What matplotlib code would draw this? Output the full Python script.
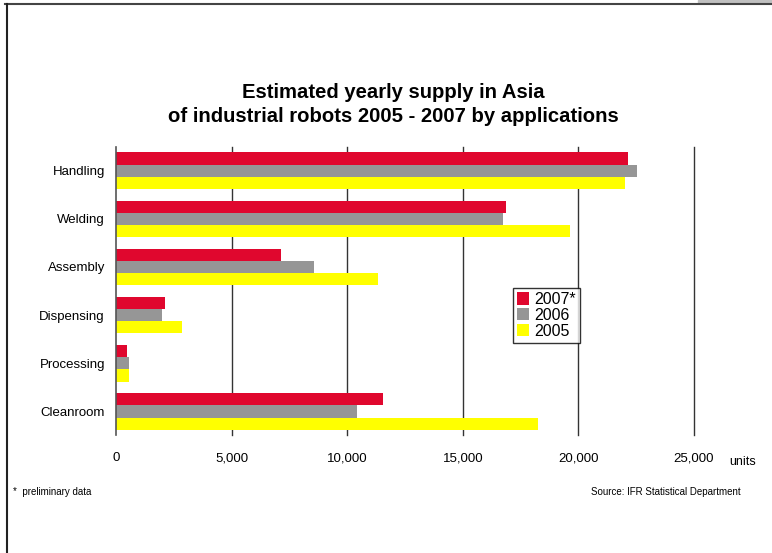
import matplotlib
matplotlib.use('Agg')
import matplotlib.pyplot as plt
from matplotlib.lines import Line2D
from matplotlib.patches import Rectangle
import numpy as np

plt.rcParams['font.family'] = ['Liberation Sans', 'DejaVu Sans']

# Data
categories = ['Handling', 'Welding', 'Assembly', 'Dispensing', 'Processing', 'Cleanroom']
supply_2007 = [22150, 16870, 7140, 2120, 480, 11550]
supply_2006 = [22530, 16730, 8560, 2000, 560, 10420]
supply_2005 = [22010, 19630, 11330, 2850, 560, 18250]
xticks = [0, 5000, 10000, 15000, 20000, 25000]
xtick_labels = ['0', '5,000', '10,000', '15,000', '20,000', '25,000']

red = '#E0072E'
gray = '#969696'
yellow = '#FFFF00'

fig = plt.figure(figsize=(7.72, 5.53), dpi=100)
ax = fig.add_axes([0.1503, 0.2125, 0.7487, 0.5225])

y = np.arange(len(categories))
h = 0.253
ax.barh(y - h, supply_2007, height=h, color=red, label='2007*', zorder=3)
ax.barh(y, supply_2006, height=h, color=gray, label='2006', zorder=3)
ax.barh(y + h, supply_2005, height=h, color=yellow, label='2005', zorder=3)

ax.set_xlim(0, 25000)
ax.set_ylim(len(categories) - 0.5, -0.5)
ax.set_xticks(xticks)
ax.set_xticklabels(xtick_labels, fontsize=9.5)
ax.set_yticks(y)
ax.set_yticklabels(categories, fontsize=9.5)
ax.tick_params(length=0)
ax.tick_params(axis='y', pad=8)
ax.tick_params(axis='x', pad=12)

for s in ['top', 'right', 'bottom']:
    ax.spines[s].set_visible(False)
ax.spines['left'].set_color('#555555')
ax.spines['left'].set_linewidth(1.2)
ax.spines['left'].set_zorder(4)
for xv in xticks[1:]:
    ax.axvline(xv, color='#333333', lw=1, zorder=1, clip_on=False)

leg = ax.legend(loc='upper left', bbox_to_anchor=(0.686, 0.51), fontsize=11.5,
                frameon=True, fancybox=False, handlelength=0.8, handleheight=0.8,
                handletextpad=0.3, borderpad=0.25, labelspacing=0.05, borderaxespad=0)
leg.get_frame().set_edgecolor('black')
leg.get_frame().set_linewidth(1)

fig.text(0.509, 0.811, 'Estimated yearly supply in Asia\nof industrial robots 2005 - 2007 by applications',
         ha='center', va='center', fontsize=14.6, fontweight='bold', linespacing=1.38)
fig.text(0.944, 0.165, 'units', ha='left', va='center', fontsize=9)
fig.text(0.017, 0.11, '*  preliminary data', ha='left', va='center', fontsize=7)
fig.text(0.96, 0.11, 'Source: IFR Statistical Department', ha='right', va='center', fontsize=7)

# outer frame
fig.add_artist(Line2D([5 / 772, 1], [1 - 3.5 / 553, 1 - 3.5 / 553], color='#444444', lw=1.5))
fig.add_artist(Line2D([6.5 / 772, 6.5 / 772], [0, 1 - 3.5 / 553], color='#222222', lw=1.5))
fig.add_artist(Rectangle((698 / 772, 1 - 3 / 553), 74 / 772, 3 / 553, color='#c0c0c0',
                         transform=fig.transFigure))

fig.savefig('out.png', dpi=100)
